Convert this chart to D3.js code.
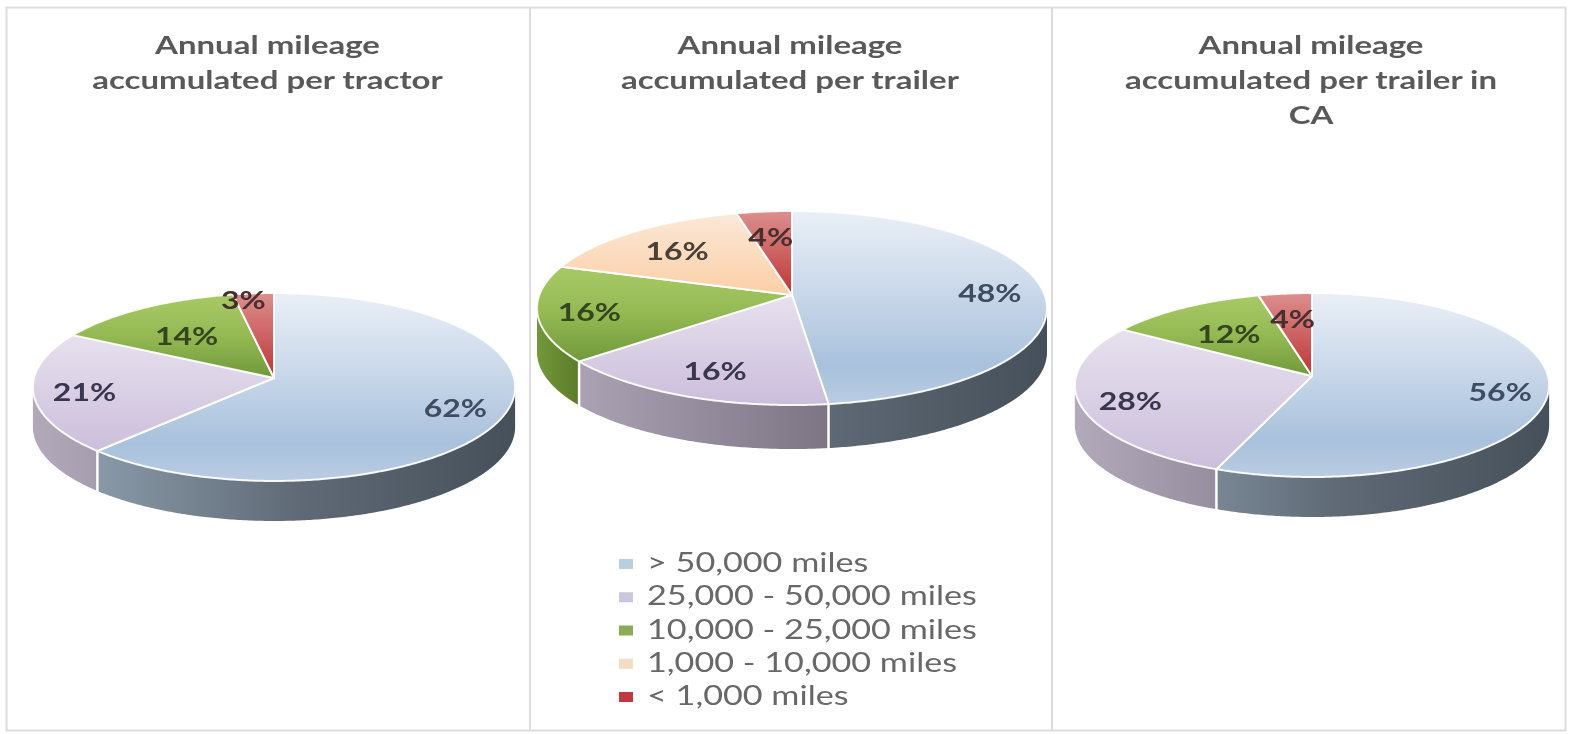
<!DOCTYPE html>
<html><head><meta charset="utf-8">
<script src="https://cdn.jsdelivr.net/npm/d3@7"></script>
<style>html,body{margin:0;padding:0;background:#fff;overflow:hidden}svg{display:block;filter:blur(0.7px)}</style>
</head><body><svg id="c" width="1570" height="734"></svg>
<script>
// ---------- data ----------
const categories = ["> 50,000 miles","25,000 - 50,000 miles","10,000 - 25,000 miles","1,000 - 10,000 miles","< 1,000 miles"];
const tractorValues      = [62,21,14,0,3];
const trailerValues      = [48,16,16,16,4];
const trailerCaValues    = [56,28,12,0,4];
const tractorTitle   = ["Annual mileage","accumulated per tractor"];
const trailerTitle   = ["Annual mileage","accumulated per trailer"];
const trailerCaTitle = ["Annual mileage","accumulated per trailer in","CA"];

// ---------- styles & layout ----------
const topStops = [
 [[0,"#eaeff6"],[.35,"#cfdcec"],[.8,"#a9c1dc"],[1,"#b9cce2"]],
 [[0,"#e7e1ee"],[1,"#cbbedb"]],
 [[0,"#a8ca66"],[.5,"#94b953"],[1,"#70993a"]],
 [[0,"#fbe8d8"],[1,"#fbcfa6"]],
 [[0,"#dc8f8d"],[1,"#bd3537"]]
];
const sideStops = [
 [[0,"#97a8b8"],[.55,"#5f6a76"],[1,"#46505a"]],
 [[0,"#b2aabb"],[.55,"#7f7686"],[1,"#5e5764"]],
 [[0,"#72973a"],[.12,"#536f20"],[1,"#46601a"]],
 [[0,"#c9a98c"],[1,"#8f7660"]],
 [[0,"#a04040"],[1,"#702020"]]
];
const labelColors = ["#3f4d60","#3b3650","#34451f","#4a4038","#46302f"];
const swatchColors = ["#b9cfe0","#c9c6de","#8cac58","#f6dcc4","#c0393f"];
const pies = [
 {values:tractorValues,  title:tractorTitle,  tx:267.5, ax:274, ay:378, a:240, b:93.1, k:.0957, depth:40,
  lr:[.79,.79,.62,0,.95], nudge:[0,0,-4,0,-11]},
 {values:trailerValues,  title:trailerTitle,  tx:790,   ax:792, ay:295, a:252.7,b:95.3, k:.134,  depth:44,
  lr:[.79,.75,.8,.71,.7], nudge:[0,0,0,0,-1]},
 {values:trailerCaValues,title:trailerCaTitle,tx:1311,  ax:1312,ay:376, a:236,  b:91.1, k:.098,  depth:40,
  lr:[.8,.79,.63,0,.7], nudge:[0,0,0,0,0]}
];

const svg = d3.select("#c");
const defs = svg.append("defs");
const TAU = Math.PI*2;
const color = d3.scaleOrdinal().domain(categories).range(swatchColors);

// frame
const frame = svg.append("g").attr("fill","none").attr("stroke","#dcdcdc").attr("stroke-width",2);
frame.append("rect").attr("x",6.5).attr("y",7.5).attr("width",1559).attr("height",723);
[530,1052].forEach(x=>frame.append("line").attr("x1",x).attr("x2",x).attr("y1",7).attr("y2",731));

function addGrad(id,stops,attrs){
  const g = defs.append("linearGradient").attr("id",id);
  Object.entries(attrs).forEach(([k,v])=>g.attr(k,v));
  stops.forEach(s=>g.append("stop").attr("offset",s[0]).attr("stop-color",s[1]));
}

pies.forEach((p,pi)=>{
  const g = svg.append("g");
  const proj = (t,r=1)=>{
    const X=Math.sin(t)*r, Y=-Math.cos(t)*r, w=1-p.k*Y;
    return [p.ax+p.a*X/w, p.ay+p.b*Y/w];
  };
  const line = d3.line();
  const arcs = d3.pie().sort(null).value(d=>d)(p.values);
  const samples = (s,e)=>{
    const n=Math.max(2,Math.ceil((e-s)/0.01));
    return d3.range(n+1).map(i=>s+(e-s)*i/n);
  };
  const xL = p.ax-p.a*1.005, xR = p.ax+p.a*1.005;
  const sStart = Math.acos(-p.k), sEnd = TAU-sStart;

  // side walls
  arcs.forEach((d,i)=>{
    const s=Math.max(d.startAngle,sStart), e=Math.min(d.endAngle,sEnd);
    if(e<=s) return;
    const id=`side${pi}_${i}`;
    addGrad(id,sideStops[i],{gradientUnits:"userSpaceOnUse",x1:xL,x2:xR,y1:0,y2:0});
    const ts=samples(s,e);
    const upper=ts.map(t=>proj(t));
    const lower=ts.map(t=>{const q=proj(t);return [q[0],q[1]+p.depth];}).reverse();
    g.append("path").attr("d",line(upper.concat(lower))+"Z").attr("fill",`url(#${id})`);
    // separator where a slice boundary faces the viewer
    if(d.startAngle>sStart && d.startAngle<sEnd){
      const q=proj(d.startAngle);
      g.append("line").attr("x1",q[0]).attr("x2",q[0]).attr("y1",q[1]).attr("y2",q[1]+p.depth+1)
       .attr("stroke","#fff").attr("stroke-width",2.5);
    }
  });

  // top faces
  arcs.forEach((d,i)=>{
    if(d.value===0) return;
    const id=`top${pi}_${i}`;
    addGrad(id,topStops[i],{x1:0,x2:0,y1:0,y2:1});
    const pts=[[p.ax,p.ay]].concat(samples(d.startAngle,d.endAngle).map(t=>proj(t)));
    g.append("path").attr("d",line(pts)+"Z").attr("fill",`url(#${id})`)
     .attr("stroke","#fff").attr("stroke-opacity",.92).attr("stroke-width",2).attr("stroke-linejoin","round");
  });

  // value labels
  arcs.forEach((d,i)=>{
    if(d.value===0) return;
    const q=proj((d.startAngle+d.endAngle)/2,p.lr[i]);
    g.append("text").text(d.value+"%")
      .attr("font-family","Lato").attr("font-weight",700).attr("font-size",25)
      .attr("fill",labelColors[i]).attr("text-anchor","middle").attr("dominant-baseline","central")
      .attr("transform",`translate(${q[0]+p.nudge[i]},${q[1]+2}) scale(1.28,1)`);
  });

  // titles
  p.title.forEach((ln,j)=>{
    g.append("text").text(ln)
     .attr("font-family","Lato").attr("font-weight",700).attr("font-size",25)
     .attr("fill","#595959").attr("text-anchor","middle")
     .attr("transform",`translate(${p.tx},${54+j*35}) scale(1.32,1)`);
  });
});

// legend
const rowY = d3.scalePoint().domain(categories).range([572,705]);
const leg = svg.append("g");
categories.forEach(c=>{
  leg.append("rect").attr("x",619).attr("y",rowY(c)-13).attr("width",14).attr("height",10).attr("fill",color(c));
  leg.append("text").text(c).attr("font-family","Lato").attr("font-size",26).attr("fill","#686868")
     .attr("transform",`translate(647,${rowY(c)}) scale(1.315,1)`);
});
</script></body></html>
